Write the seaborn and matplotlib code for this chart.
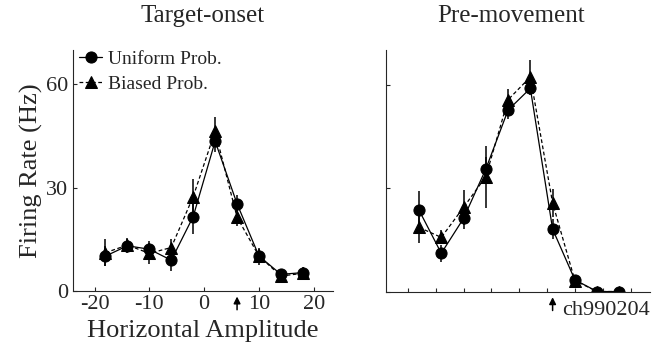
import pandas as pd
import matplotlib.pyplot as plt
import seaborn as sns

amplitude = [-18, -14, -10, -6, -2, 2, 6, 10, 14, 18]

# Target-onset
onset_uniform = [10.1, 13.1, 12.1, 8.9, 21.6, 43.5, 25.3, 10.1, 4.8, 5.3]
onset_uniform_err = [3.0, 2.0, 2.5, 3.0, 5.0, 3.0, 2.5, 2.5, 1.5, 1.5]
onset_biased = [11.1, 13.3, 10.9, 12.6, 27.4, 46.4, 21.4, 10.1, 4.3, 5.1]
onset_biased_err = [4.0, 2.0, 3.0, 2.5, 5.0, 4.0, 2.5, 2.0, 1.5, 1.5]

# Pre-movement
pre_uniform = [23.6, 11.1, 21.2, 35.5, 52.6, 58.9, 18.1, 3.4, 0.0, 0.0]
pre_uniform_err = [5.5, 2.5, 3.0, 3.5, 2.5, 2.0, 3.0, 1.5, 0.0, 0.0]
pre_biased = [18.6, 15.7, 24.4, 33.3, 55.6, 62.2, 25.7, 3.2, 0.0, 0.0]
pre_biased_err = [4.5, 2.0, 5.0, 9.0, 3.0, 5.0, 4.0, 1.5, 0.0, 0.0]

labels = ['Uniform Prob.', 'Biased Prob.']
titles = ['Target-onset', 'Pre-movement']

sns.set_style('ticks')
plt.rcParams['font.family'] = ['Liberation Serif', 'DejaVu Serif']
plt.rcParams['axes.unicode_minus'] = False

fig = plt.figure(figsize=(6.66, 3.5), dpi=100)
ax1 = fig.add_axes([0.109, 0.169, 0.391, 0.688])
ax2 = fig.add_axes([0.579, 0.167, 0.397, 0.690])

panels = [
    (ax1, onset_uniform, onset_uniform_err, onset_biased, onset_biased_err),
    (ax2, pre_uniform, pre_uniform_err, pre_biased, pre_biased_err),
]

for i, (ax, u, ue, b, be) in enumerate(panels):
    df = pd.DataFrame({
        'x': amplitude * 2,
        'rate': b + u,
        'cond': [labels[1]] * len(b) + [labels[0]] * len(u),
    })
    ax.errorbar(amplitude, b, yerr=be, fmt='none', ecolor='black', elinewidth=1.1, capsize=0)
    ax.errorbar(amplitude, u, yerr=ue, fmt='none', ecolor='black', elinewidth=1.1, capsize=0)
    sns.lineplot(data=df, x='x', y='rate', hue='cond', style='cond',
                 hue_order=labels, style_order=labels,
                 palette=['black', 'black'], markers={labels[0]: 'o', labels[1]: '^'},
                 dashes={labels[0]: '', labels[1]: (3, 2)},
                 markersize=8, markeredgecolor='black', linewidth=0.9,
                 ax=ax, legend=(i == 0))
    ax.set_xlim(-24, 23.5)
    ax.set_ylim(0, 70)
    ax.set_yticks([0, 30, 60])
    ax.tick_params(direction='in', length=3, width=0.8, labelsize=16, pad=3)
    for s in ['top', 'right']:
        ax.spines[s].set_visible(False)
    for s in ['left', 'bottom']:
        ax.spines[s].set_linewidth(0.8)
    ax.annotate('', xy=(6, -0.012), xycoords=('data', 'axes fraction'),
                xytext=(6, -0.09), textcoords=('data', 'axes fraction'),
                arrowprops=dict(arrowstyle='-|>', color='black', lw=1.1, mutation_scale=10),
                annotation_clip=False)

ax1.set_title(titles[0], fontsize=18, pad=20)
ax2.set_title(titles[1], fontsize=18, pad=20, x=0.475)

ax1.set_xticks([-20, -10, 0, 10, 20])
ax1.set_xlabel('Horizontal Amplitude', fontsize=19, labelpad=4)
ax1.set_ylabel('Firing Rate (Hz)', fontsize=19, labelpad=2)
ax1.legend(loc='upper left', bbox_to_anchor=(-0.005, 1.03), frameon=False,
           fontsize=14, handlelength=1.2, handletextpad=0.3, labelspacing=0.35,
           borderaxespad=0)

ax2.set_xticks([-20, -15, -10, -5, 0, 5, 10, 15, 20])
ax2.set_xticklabels([])
ax2.set_yticklabels([])
ax2.set_xlabel('')
ax2.set_ylabel('')
ax2.text(1.0, -0.08, 'ch990204', transform=ax2.transAxes, ha='right', va='center', fontsize=16)

fig.savefig('out.png', dpi=100)
